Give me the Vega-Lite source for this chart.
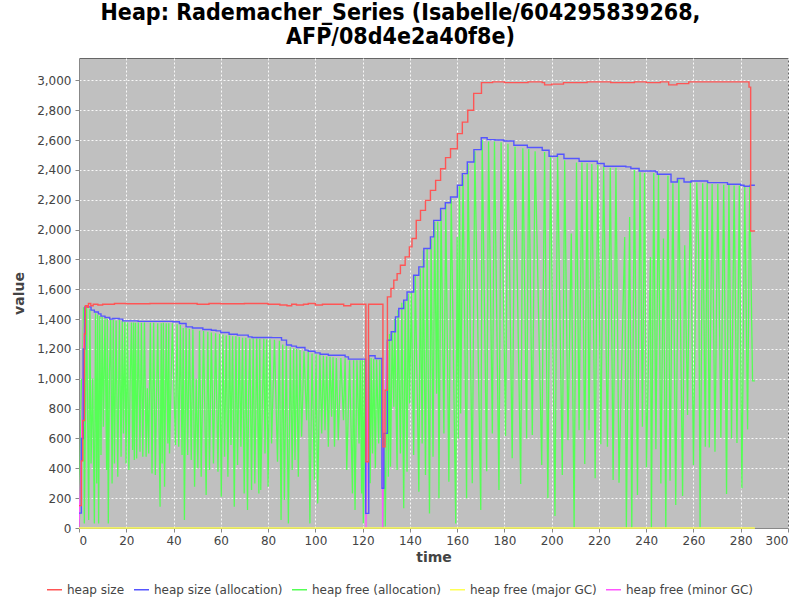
{
"$schema": "https://vega.github.io/schema/vega-lite/v6.json",
"width": 709, "height": 470,
"autosize": {"type": "none"},
"padding": {"left": 79, "top": 58, "right": 12, "bottom": 72},
"background": "white",
"title": {"text": ["Heap: Rademacher_Series (Isabelle/604295839268,", "AFP/08d4e2a40f8e)"], "anchor": "middle", "frame": "group", "dx": -33, "font": "DejaVu Sans Condensed, DejaVu Sans", "fontSize": 23, "fontWeight": "bold", "color": "#000000", "lineHeight": 24, "offset": 9},
"config": {
  "view": {"fill": "#c0c0c0", "stroke": "#666666", "strokeWidth": 1},
  "axis": {"labelFont": "DejaVu Sans", "labelFontSize": 12, "labelColor": "#444444", "titleFont": "DejaVu Sans", "titleFontSize": 14, "titleFontWeight": "bold", "titleColor": "#444444", "tickColor": "#888888", "domainColor": "#888888", "tickSize": 4, "gridColor": "#ffffff", "gridDash": [2, 2], "gridOpacity": 0.9, "gridWidth": 1}
},
"datasets": {
  "red": [
    {"t":0,"v":150},{"t":1.0,"v":450},{"t":1.6,"v":720},{"t":2.3,"v":1300},{"t":2.7,"v":1490},{"t":3.5,"v":1480},{"t":4.0,"v":1505},{"t":5,"v":1490},{"t":6,"v":1500},{"t":8,"v":1495},{"t":10,"v":1500},{"t":15,"v":1505},{"t":20,"v":1503},{"t":30,"v":1505},{"t":40,"v":1505},{"t":50,"v":1500},{"t":55,"v":1505},{"t":60,"v":1503},{"t":70,"v":1505},{"t":80,"v":1500},{"t":85,"v":1495},{"t":88,"v":1490},{"t":90,"v":1500},{"t":92,"v":1495},{"t":95,"v":1500},{"t":97,"v":1505},{"t":100,"v":1495},{"t":103,"v":1500},{"t":110,"v":1500},{"t":112,"v":1490},{"t":115,"v":1500},{"t":121.0,"v":1500},{"t":121.4,"v":444},{"t":122.5,"v":1500},{"t":128.1,"v":1500},{"t":128.6,"v":545},{"t":129.5,"v":924},{"t":130.5,"v":1549},{"t":132,"v":1605},{"t":133.2,"v":1661},{"t":134.6,"v":1705},{"t":136,"v":1761},{"t":138,"v":1817},{"t":139.8,"v":1884},{"t":140.9,"v":1940},{"t":142.7,"v":2062},{"t":144.5,"v":2129},{"t":146.6,"v":2196},{"t":148.7,"v":2263},{"t":150.9,"v":2330},{"t":153,"v":2408},{"t":155.1,"v":2482},{"t":157.2,"v":2542},{"t":160.1,"v":2643},{"t":162.2,"v":2720},{"t":164.5,"v":2800},{"t":167,"v":2913},{"t":170.3,"v":2985},{"t":175,"v":2990},{"t":180,"v":2985},{"t":190,"v":2990},{"t":196,"v":2985},{"t":197,"v":2970},{"t":200,"v":2975},{"t":205,"v":2985},{"t":215,"v":2990},{"t":225,"v":2985},{"t":235,"v":2990},{"t":240,"v":2985},{"t":246,"v":2990},{"t":249.5,"v":2970},{"t":253,"v":2978},{"t":258,"v":2990},{"t":270,"v":2990},{"t":283,"v":2990},{"t":283.5,"v":2955},{"t":284.2,"v":1991},{"t":286,"v":1991}
  ],
  "blue": [
    {"t":0,"v":100},{"t":1.0,"v":600},{"t":1.8,"v":1200},{"t":2.5,"v":1482},{"t":5.1,"v":1460},{"t":6.5,"v":1448},{"t":8.2,"v":1435},{"t":9.3,"v":1420},{"t":11,"v":1411},{"t":13,"v":1400},{"t":14.3,"v":1404},{"t":17,"v":1400},{"t":18.5,"v":1388},{"t":25,"v":1385},{"t":39.7,"v":1382},{"t":42.5,"v":1371},{"t":45.3,"v":1348},{"t":48,"v":1340},{"t":52.4,"v":1330},{"t":56,"v":1325},{"t":58,"v":1321},{"t":60,"v":1310},{"t":63.5,"v":1299},{"t":67,"v":1293},{"t":71.6,"v":1281},{"t":73.2,"v":1277},{"t":81.5,"v":1276},{"t":85.7,"v":1259},{"t":87.8,"v":1226},{"t":89.9,"v":1219},{"t":92,"v":1210},{"t":95.6,"v":1192},{"t":97,"v":1185},{"t":99.9,"v":1174},{"t":102,"v":1165},{"t":105.5,"v":1158},{"t":112.6,"v":1147},{"t":114,"v":1132},{"t":121.3,"v":98},{"t":122.6,"v":1154},{"t":125.3,"v":1136},{"t":128.2,"v":266},{"t":129.0,"v":634},{"t":130.5,"v":1259},{"t":132.1,"v":1315},{"t":133.9,"v":1415},{"t":135.3,"v":1471},{"t":137.4,"v":1527},{"t":138.8,"v":1582},{"t":141.6,"v":1694},{"t":143.8,"v":1750},{"t":145.9,"v":1873},{"t":148.7,"v":1951},{"t":150.1,"v":2062},{"t":153,"v":2141},{"t":155,"v":2180},{"t":157.2,"v":2218},{"t":160.1,"v":2297},{"t":162.2,"v":2375},{"t":164.3,"v":2453},{"t":167.1,"v":2536},{"t":170.2,"v":2616},{"t":172.7,"v":2603},{"t":176,"v":2600},{"t":179.8,"v":2594},{"t":184,"v":2565},{"t":189.7,"v":2550},{"t":196,"v":2532},{"t":198.9,"v":2492},{"t":202.4,"v":2505},{"t":205.2,"v":2476},{"t":211.6,"v":2458},{"t":219.3,"v":2443},{"t":222.2,"v":2425},{"t":231.4,"v":2420},{"t":233.5,"v":2409},{"t":237,"v":2393},{"t":244,"v":2387},{"t":244.7,"v":2371},{"t":250.5,"v":2319},{"t":253.2,"v":2342},{"t":256,"v":2319},{"t":259,"v":2326},{"t":266,"v":2315},{"t":274.4,"v":2304},{"t":280,"v":2297},{"t":281.4,"v":2290},{"t":284,"v":2297},{"t":286,"v":2297}
  ],
  "green": [
    {"t":0.2,"v":60},{"t":1.0,"v":1000},{"t":1.3,"v":611},{"t":1.9,"v":1480},{"t":2.26,"v":31},{"t":3.2,"v":1480},{"t":4.1,"v":54},{"t":4.6,"v":1470},{"t":5.1,"v":433},{"t":5.8,"v":1002},{"t":6.5,"v":31},{"t":7.0,"v":1440},{"t":7.5,"v":299},{"t":7.9,"v":1430},{"t":8.3,"v":31},{"t":8.8,"v":1420},{"t":9.3,"v":489},{"t":9.8,"v":1415},{"t":10.3,"v":678},{"t":11.0,"v":1405},{"t":11.7,"v":388},{"t":12.0,"v":1400},{"t":12.4,"v":31},{"t":12.9,"v":1040},{"t":13.4,"v":1395},{"t":14,"v":299},{"t":14.5,"v":1395},{"t":15,"v":433},{"t":15.7,"v":1390},{"t":16.4,"v":344},{"t":17.1,"v":1395},{"t":17.8,"v":478},{"t":18.3,"v":1385},{"t":18.8,"v":634},{"t":19.4,"v":1380},{"t":19.9,"v":433},{"t":20.5,"v":1378},{"t":21.1,"v":388},{"t":21.6,"v":947},{"t":22.2,"v":1378},{"t":22.7,"v":522},{"t":23.1,"v":1378},{"t":23.4,"v":455},{"t":23.9,"v":1375},{"t":24.4,"v":466},{"t":25.1,"v":1378},{"t":25.8,"v":511},{"t":26.4,"v":1375},{"t":27,"v":478},{"t":27.7,"v":1378},{"t":28.4,"v":478},{"t":28.9,"v":936},{"t":29.5,"v":500},{"t":30.2,"v":1375},{"t":30.9,"v":366},{"t":31.6,"v":1375},{"t":32.3,"v":355},{"t":33.3,"v":1372},{"t":34.3,"v":143},{"t":34.8,"v":1372},{"t":35.2,"v":433},{"t":35.7,"v":1375},{"t":36.2,"v":277},{"t":36.9,"v":1372},{"t":37.6,"v":567},{"t":38.0,"v":1372},{"t":38.3,"v":500},{"t":39.5,"v":1372},{"t":40.8,"v":556},{"t":41.5,"v":1365},{"t":42.2,"v":545},{"t":42.9,"v":1360},{"t":43.6,"v":489},{"t":44.1,"v":1340},{"t":44.6,"v":54},{"t":45.3,"v":1340},{"t":46,"v":489},{"t":46.7,"v":1335},{"t":47.5,"v":455},{"t":48.2,"v":1330},{"t":48.9,"v":277},{"t":49.6,"v":1000},{"t":50.3,"v":400},{"t":51,"v":1322},{"t":51.7,"v":344},{"t":52.7,"v":1320},{"t":53.8,"v":221},{"t":54.5,"v":1315},{"t":55.2,"v":388},{"t":56,"v":1310},{"t":56.9,"v":433},{"t":57.8,"v":1305},{"t":58.8,"v":377},{"t":59.5,"v":1300},{"t":60.2,"v":210},{"t":60.9,"v":1295},{"t":61.6,"v":478},{"t":62.3,"v":1290},{"t":63,"v":344},{"t":63.7,"v":1290},{"t":64.3,"v":556},{"t":65.0,"v":1285},{"t":65.7,"v":143},{"t":66.4,"v":1285},{"t":67.1,"v":422},{"t":67.8,"v":1280},{"t":68.5,"v":545},{"t":69.2,"v":1275},{"t":69.9,"v":232},{"t":70.6,"v":1275},{"t":71.3,"v":121},{"t":71.8,"v":902},{"t":72.3,"v":1270},{"t":73,"v":254},{"t":73.7,"v":1270},{"t":74.4,"v":299},{"t":75.2,"v":1270},{"t":76.1,"v":232},{"t":76.5,"v":1268},{"t":76.9,"v":254},{"t":77.6,"v":858},{"t":78.2,"v":1268},{"t":78.7,"v":500},{"t":79.4,"v":1265},{"t":80,"v":277},{"t":80.8,"v":1265},{"t":81.5,"v":567},{"t":82.7,"v":1262},{"t":84,"v":444},{"t":84.8,"v":1255},{"t":85.5,"v":54},{"t":86.2,"v":1230},{"t":86.9,"v":187},{"t":87.7,"v":1220},{"t":88.6,"v":31},{"t":89.4,"v":1212},{"t":90.2,"v":388},{"t":90.8,"v":1205},{"t":91.4,"v":455},{"t":92.1,"v":1200},{"t":92.8,"v":344},{"t":93.5,"v":1195},{"t":94.2,"v":611},{"t":95.2,"v":1185},{"t":96.3,"v":723},{"t":97.0,"v":1180},{"t":97.7,"v":31},{"t":98.6,"v":1170},{"t":99.6,"v":321},{"t":100.3,"v":1165},{"t":101,"v":165},{"t":101.9,"v":1160},{"t":102.7,"v":634},{"t":103.4,"v":1155},{"t":104.1,"v":656},{"t":104.8,"v":1150},{"t":105.5,"v":545},{"t":106.2,"v":1148},{"t":106.9,"v":745},{"t":107.5,"v":1145},{"t":108.1,"v":545},{"t":108.9,"v":1140},{"t":109.7,"v":589},{"t":110.8,"v":1140},{"t":111.9,"v":723},{"t":112.6,"v":1138},{"t":113.3,"v":388},{"t":114.5,"v":1125},{"t":115.7,"v":232},{"t":116.2,"v":1125},{"t":116.8,"v":121},{"t":117.6,"v":1125},{"t":118.5,"v":567},{"t":119.0,"v":1125},{"t":119.6,"v":232},{"t":119.9,"v":1125},{"t":120.3,"v":31},{"t":120.8,"v":1125},{"t":121.3,"v":90},{"t":122.7,"v":1150},{"t":123.2,"v":300},{"t":123.6,"v":1140},{"t":124.2,"v":500},{"t":124.7,"v":1135},{"t":125.4,"v":400},{"t":125.9,"v":1130},{"t":126.8,"v":567},{"t":127.3,"v":1128},{"t":127.8,"v":600},{"t":128.1,"v":1125},{"t":128.6,"v":0},{"t":129.1,"v":600},{"t":129.6,"v":10},{"t":130.4,"v":1250},{"t":130.9,"v":344},{"t":131.4,"v":1300},{"t":131.8,"v":411},{"t":132.5,"v":1310},{"t":133.2,"v":812},{"t":133.6,"v":1400},{"t":134.6,"v":388},{"t":135.0,"v":1460},{"t":136.0,"v":500},{"t":136.6,"v":1510},{"t":137.4,"v":132},{"t":138.0,"v":1520},{"t":138.8,"v":377},{"t":139.3,"v":1570},{"t":139.9,"v":835},{"t":140.6,"v":1580},{"t":141.6,"v":489},{"t":142.3,"v":1690},{"t":143.8,"v":243},{"t":144.4,"v":1740},{"t":145.2,"v":567},{"t":145.7,"v":1860},{"t":146.6,"v":355},{"t":147.3,"v":1870},{"t":148.3,"v":98},{"t":149.0,"v":1940},{"t":149.8,"v":478},{"t":150.5,"v":2050},{"t":151.3,"v":900},{"t":151.8,"v":2055},{"t":152.3,"v":199},{"t":153.2,"v":2130},{"t":154.4,"v":634},{"t":155.2,"v":2170},{"t":156.5,"v":310},{"t":157.5,"v":2210},{"t":159.4,"v":31},{"t":160.0,"v":1951},{"t":160.5,"v":600},{"t":161.0,"v":2290},{"t":161.5,"v":768},{"t":162.5,"v":2365},{"t":164.0,"v":199},{"t":164.6,"v":2440},{"t":166.4,"v":300},{"t":167.5,"v":2525},{"t":170.0,"v":121},{"t":170.6,"v":2600},{"t":172.5,"v":380},{"t":173.3,"v":2590},{"t":174.9,"v":634},{"t":175.8,"v":2590},{"t":177.7,"v":254},{"t":178.6,"v":2585},{"t":180.5,"v":616},{"t":181.5,"v":2575},{"t":183.3,"v":467},{"t":184.5,"v":2555},{"t":186.9,"v":295},{"t":187.8,"v":2545},{"t":189.4,"v":600},{"t":190.3,"v":2540},{"t":191.8,"v":623},{"t":193.0,"v":2525},{"t":195.8,"v":422},{"t":197.0,"v":2520},{"t":198.4,"v":199},{"t":199.5,"v":2485},{"t":201.4,"v":80},{"t":202.5,"v":2495},{"t":204.5,"v":355},{"t":205.5,"v":2465},{"t":206.9,"v":589},{"t":208.3,"v":1973},{"t":209.5,"v":0},{"t":210.5,"v":2450},{"t":211.6,"v":656},{"t":212.8,"v":2450},{"t":214.0,"v":429},{"t":215.0,"v":2445},{"t":215.8,"v":656},{"t":217.0,"v":2440},{"t":218.4,"v":333},{"t":219.5,"v":2435},{"t":220.8,"v":562},{"t":222.0,"v":2420},{"t":223.6,"v":544},{"t":224.8,"v":2415},{"t":226.0,"v":321},{"t":227.2,"v":2415},{"t":228.5,"v":303},{"t":230.9,"v":1950},{"t":231.6,"v":0},{"t":233.0,"v":2085},{"t":233.9,"v":0},{"t":235.0,"v":2400},{"t":236.3,"v":221},{"t":237.4,"v":2385},{"t":238.4,"v":678},{"t":239.3,"v":2380},{"t":240.1,"v":406},{"t":241.8,"v":1817},{"t":242.2,"v":0},{"t":243.2,"v":2380},{"t":244.1,"v":527},{"t":245.2,"v":2365},{"t":246.2,"v":299},{"t":247.3,"v":1940},{"t":248.3,"v":0},{"t":249.2,"v":2360},{"t":250.1,"v":317},{"t":251.3,"v":2310},{"t":252.5,"v":154},{"t":253.8,"v":2335},{"t":255.4,"v":214},{"t":256.3,"v":1895},{"t":257.5,"v":757},{"t":258.7,"v":2320},{"t":260.0,"v":422},{"t":261.4,"v":2315},{"t":262.2,"v":1884},{"t":262.8,"v":0},{"t":263.9,"v":2310},{"t":265.0,"v":544},{"t":265.8,"v":2310},{"t":266.7,"v":540},{"t":267.9,"v":2305},{"t":269.1,"v":511},{"t":270.3,"v":2305},{"t":271.6,"v":605},{"t":272.8,"v":2300},{"t":274.0,"v":228},{"t":275.0,"v":2300},{"t":276.1,"v":600},{"t":277.2,"v":2295},{"t":278.4,"v":569},{"t":279.4,"v":2295},{"t":280.5,"v":266},{"t":281.7,"v":2285},{"t":282.9,"v":661},{"t":283.8,"v":2290},{"t":285.0,"v":986},{"t":286.0,"v":986}
  ],
  "yellow": [{"t":0,"v":0},{"t":286,"v":0}],
  "magenta": [
    {"t":0,"v":0,"part":"a"},{"t":0.9,"v":500,"part":"a"},{"t":1.8,"v":1150,"part":"a"},{"t":2.5,"v":1480,"part":"a"},
    {"t":121.25,"v":1132,"part":"b"},{"t":121.45,"v":0,"part":"b"},{"t":122.5,"v":1150,"part":"b"},
    {"t":128.2,"v":1132,"part":"c"},{"t":128.5,"v":0,"part":"c"},{"t":129.0,"v":640,"part":"c"},{"t":130.4,"v":1259,"part":"c"}
  ]
},
"encoding": {
  "x": {"field": "t", "type": "quantitative", "title": "time", "scale": {"domain": [0, 300], "nice": false, "zero": false}, "axis": {"values": [0,20,40,60,80,100,120,140,160,180,200,220,240,260,280,300], "labelPadding": 3, "titlePadding": 4}},
  "y": {"field": "v", "type": "quantitative", "title": "value", "scale": {"domain": [0, 3150], "nice": false}, "axis": {"values": [0,200,400,600,800,1000,1200,1400,1600,1800,2000,2200,2400,2600,2800,3000], "format": ",d", "labelPadding": 4, "titlePadding": 10}}
},
"layer": [
  {"data": {"name": "green"}, "mark": {"type": "line", "strokeWidth": 1.3, "clip": true}, "encoding": {"color": {"datum": "heap free (allocation)"}}},
  {"data": {"name": "magenta"}, "mark": {"type": "line", "strokeWidth": 1.3, "clip": true}, "encoding": {"color": {"datum": "heap free (minor GC)"}, "detail": {"field": "part"}}},
  {"data": {"name": "yellow"}, "mark": {"type": "line", "strokeWidth": 1.5}, "encoding": {"color": {"datum": "heap free (major GC)"}}},
  {"data": {"name": "blue"}, "mark": {"type": "line", "strokeWidth": 1.4, "interpolate": "step-after", "clip": true}, "encoding": {"color": {"datum": "heap size (allocation)"}}},
  {"data": {"name": "red"}, "mark": {"type": "line", "strokeWidth": 1.4, "interpolate": "step-after", "clip": true}, "encoding": {"color": {"datum": "heap size", "type": "nominal", "scale": {"domain": ["heap size", "heap size (allocation)", "heap free (allocation)", "heap free (major GC)", "heap free (minor GC)"], "range": ["#ff5555", "#5555ff", "#55ff55", "#ffff55", "#ff55ff"]}, "legend": {"title": null, "orient": "none", "legendX": -33, "legendY": 523, "direction": "horizontal", "symbolType": "stroke", "symbolSize": 225, "symbolStrokeWidth": 1.5, "labelFont": "DejaVu Sans", "labelFontSize": 12, "labelColor": "#444444", "labelOffset": 4, "columnPadding": 6, "padding": 0}}}}
]
}
